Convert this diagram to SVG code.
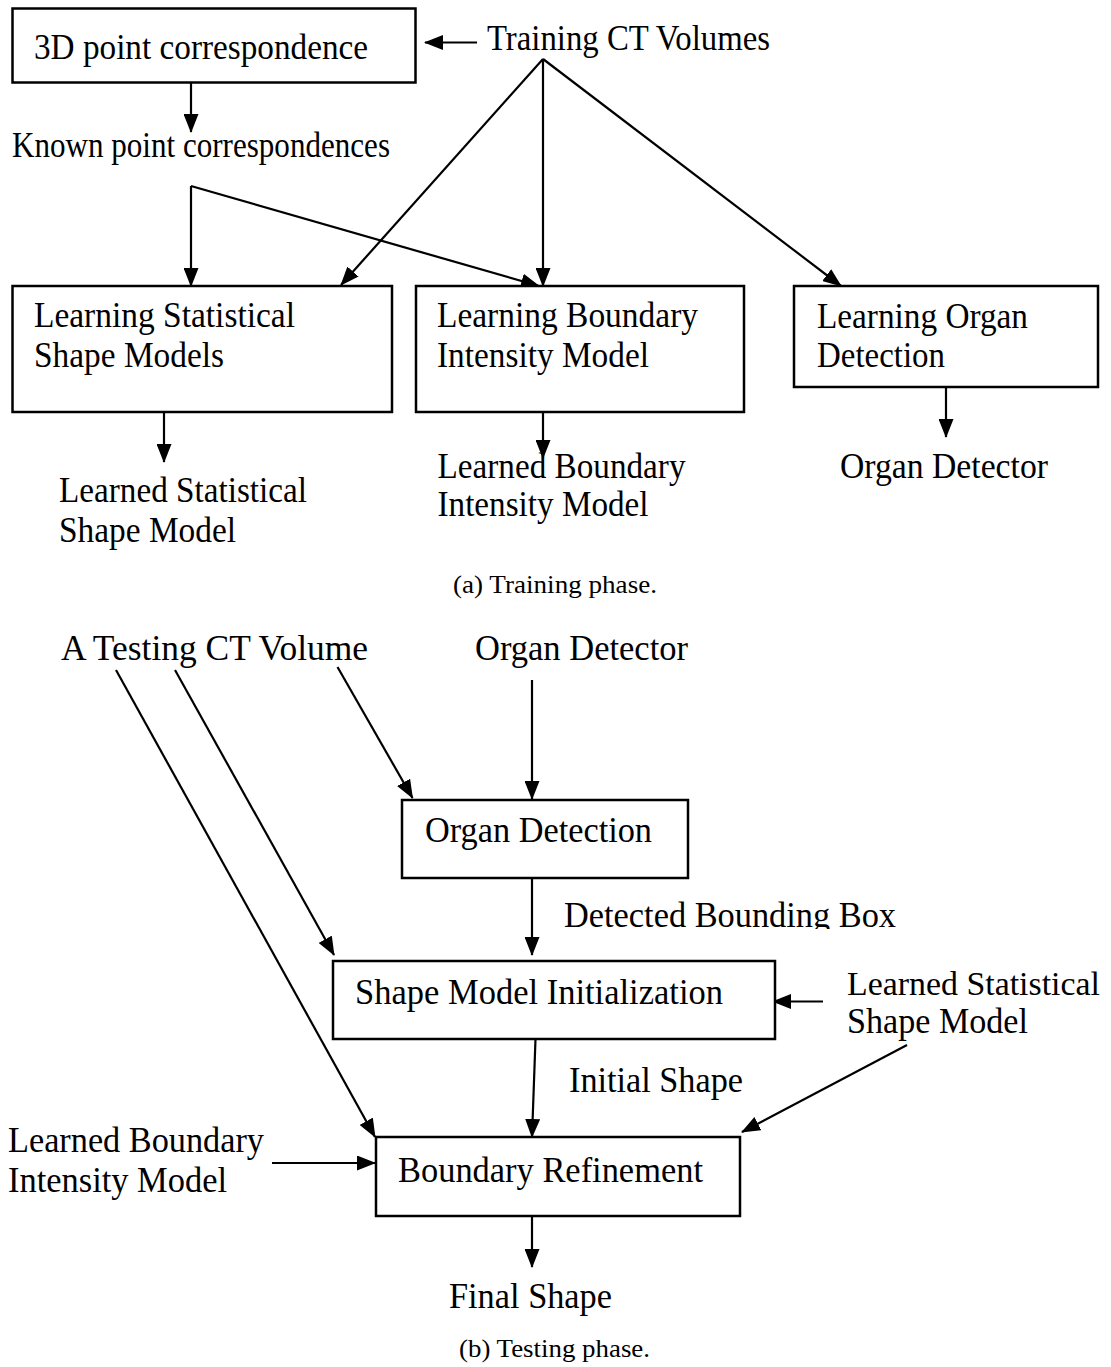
<svg xmlns="http://www.w3.org/2000/svg" width="1111" height="1367" viewBox="0 0 1111 1367">
<style>
.box{fill:#fff;stroke:#000;stroke-width:2.5}
.t{font-family:"Liberation Serif","Times New Roman",serif;font-size:35px;fill:#000}
.tb{font-family:"Liberation Serif","Times New Roman",serif;font-size:36.5px;fill:#000}
.cap{font-family:"Liberation Serif","Times New Roman",serif;font-size:26px;fill:#000}
.c line{stroke:#000;stroke-width:2.2;fill:none;marker-end:url(#ah)}
</style>
<defs>
<marker id="ah" markerWidth="19" markerHeight="15" refX="18" refY="7.5" orient="auto" markerUnits="userSpaceOnUse"><path d="M0,0 L19,7.5 L0,15 z" fill="#000"/></marker>
<clipPath id="clipDBB"><rect x="540" y="880" width="400" height="49"/></clipPath>
</defs>
<rect width="1111" height="1367" fill="#fff"/>

<g class="c" id="connectors">
<line x1="477" y1="42.5" x2="425" y2="42.5"/>
<line x1="191" y1="83" x2="191" y2="132"/>
<line x1="191" y1="186" x2="191" y2="286"/>
<line x1="191" y1="186" x2="539" y2="286"/>
<line x1="543" y1="59" x2="341" y2="285"/>
<line x1="543" y1="59" x2="543" y2="286"/>
<line x1="543" y1="59" x2="841" y2="286"/>
<line x1="164" y1="412" x2="164" y2="462"/>
<line x1="543" y1="412" x2="543" y2="458"/>
<line x1="946" y1="387" x2="946" y2="437"/>
<line x1="532" y1="680" x2="532" y2="799"/>
<line x1="337.5" y1="667" x2="412.5" y2="798"/>
<line x1="175" y1="670" x2="334" y2="955"/>
<line x1="116" y1="670" x2="375" y2="1137"/>
<line x1="532" y1="878" x2="532" y2="955"/>
<line x1="823" y1="1001.5" x2="773" y2="1001.5"/>
<line x1="535.5" y1="1039" x2="532" y2="1137"/>
<line x1="907" y1="1045" x2="742" y2="1132"/>
<line x1="272" y1="1163" x2="375" y2="1163"/>
<line x1="532" y1="1216" x2="532" y2="1267"/>
</g>

<g id="n-3d"><rect class="box" x="12.5" y="8.5" width="403" height="74"/><text class="t" x="34" y="59" textLength="334" lengthAdjust="spacingAndGlyphs">3D point correspondence</text></g>
<g id="n-training"><text class="t" x="487" y="50" textLength="283" lengthAdjust="spacingAndGlyphs">Training CT Volumes</text></g>
<g id="n-known"><text class="t" x="12" y="157" textLength="378" lengthAdjust="spacingAndGlyphs">Known point correspondences</text></g>
<g id="n-lssm"><rect class="box" x="12.5" y="286" width="379.5" height="126"/><text class="t" x="34" y="327" textLength="261" lengthAdjust="spacingAndGlyphs">Learning Statistical</text><text class="t" x="34" y="367" textLength="190" lengthAdjust="spacingAndGlyphs">Shape Models</text></g>
<g id="n-lbim"><rect class="box" x="416" y="286" width="328" height="126"/><text class="t" x="437" y="327" textLength="261" lengthAdjust="spacingAndGlyphs">Learning Boundary</text><text class="t" x="437" y="367" textLength="212" lengthAdjust="spacingAndGlyphs">Intensity Model</text></g>
<g id="n-lod"><rect class="box" x="794" y="286" width="304" height="101"/><text class="t" x="817" y="328" textLength="211" lengthAdjust="spacingAndGlyphs">Learning Organ</text><text class="t" x="817" y="367" textLength="128" lengthAdjust="spacingAndGlyphs">Detection</text></g>
<g id="n-lssm-out"><text class="t" x="59" y="502" textLength="248" lengthAdjust="spacingAndGlyphs">Learned Statistical</text><text class="t" x="59" y="542" textLength="177" lengthAdjust="spacingAndGlyphs">Shape Model</text></g>
<g id="n-lbim-out"><text class="t" x="437.5" y="478" textLength="248" lengthAdjust="spacingAndGlyphs">Learned Boundary</text><text class="t" x="437.5" y="516" textLength="211" lengthAdjust="spacingAndGlyphs">Intensity Model</text></g>
<g id="n-od-out"><text class="t" x="840" y="478" textLength="208" lengthAdjust="spacingAndGlyphs">Organ Detector</text></g>
<g id="cap-a"><text class="cap" x="453" y="593" textLength="204" lengthAdjust="spacingAndGlyphs">(a) Training phase.</text></g>

<g id="n-testct"><text class="tb" x="61" y="660" textLength="307" lengthAdjust="spacingAndGlyphs">A Testing CT Volume</text></g>
<g id="n-orgdet-in"><text class="tb" x="475" y="660" textLength="213" lengthAdjust="spacingAndGlyphs">Organ Detector</text></g>
<g id="n-orgdetection"><rect class="box" x="402" y="800" width="286" height="78"/><text class="tb" x="425" y="842" textLength="227" lengthAdjust="spacingAndGlyphs">Organ Detection</text></g>
<g id="n-dbb"><text class="tb" x="564" y="927" textLength="332" lengthAdjust="spacingAndGlyphs" clip-path="url(#clipDBB)">Detected Bounding Box</text></g>
<g id="n-smi"><rect class="box" x="333" y="961" width="442" height="78"/><text class="tb" x="355" y="1004" textLength="368" lengthAdjust="spacingAndGlyphs">Shape Model Initialization</text></g>
<g id="n-lss-in"><text class="tb" x="847" y="995" style="font-size:34px" textLength="253" lengthAdjust="spacingAndGlyphs">Learned Statistical</text><text class="tb" x="847" y="1033" textLength="181" lengthAdjust="spacingAndGlyphs">Shape Model</text></g>
<g id="n-initshape"><text class="tb" x="569" y="1092" textLength="174" lengthAdjust="spacingAndGlyphs">Initial Shape</text></g>
<g id="n-lbim-in"><text class="tb" x="8" y="1152" textLength="256" lengthAdjust="spacingAndGlyphs">Learned Boundary</text><text class="tb" x="8" y="1192" textLength="219" lengthAdjust="spacingAndGlyphs">Intensity Model</text></g>
<g id="n-br"><rect class="box" x="376" y="1137" width="364" height="79"/><text class="tb" x="398" y="1182" textLength="305" lengthAdjust="spacingAndGlyphs">Boundary Refinement</text></g>
<g id="n-final"><text class="tb" x="449" y="1308" textLength="163" lengthAdjust="spacingAndGlyphs">Final Shape</text></g>
<g id="cap-b"><text class="cap" x="459" y="1357" textLength="191" lengthAdjust="spacingAndGlyphs">(b) Testing phase.</text></g>
</svg>
